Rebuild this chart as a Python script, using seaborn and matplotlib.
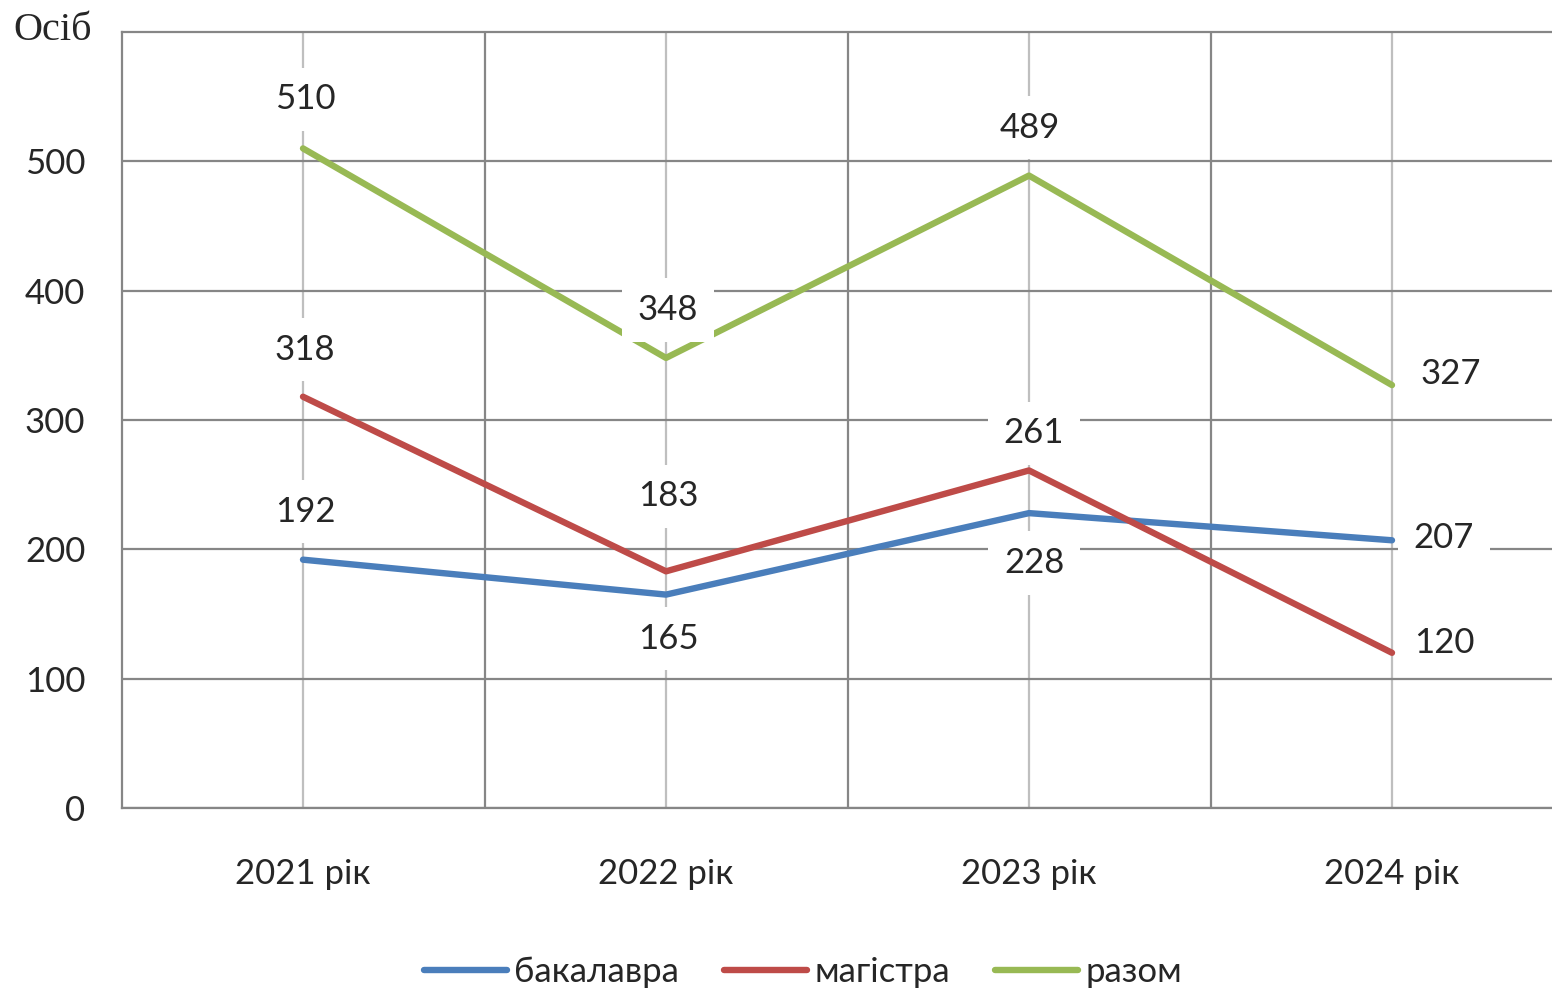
import matplotlib
matplotlib.use("Agg")
import matplotlib.pyplot as plt
import seaborn as sns
import pandas as pd

# data
years = ["2021 рік", "2022 рік", "2023 рік", "2024 рік"]
bakalavra = [192, 165, 228, 207]
magistra = [318, 183, 261, 120]
razom = [510, 348, 489, 327]
series_names = ["бакалавра", "магістра", "разом"]

colors = ["#4A7EBB", "#BE4B48", "#98B954"]

# label offsets in pixels (dx, dy) relative to each point
label_offsets = {
    "бакалавра": [(2, 48), (2, -44), (5, -50), (52, 2)],
    "магістра": [(2, 47), (2, 75), (5, 37), (52, 10)],
    "разом": [(2, 49), (2, 48), (1, 48), (59, 11)],
}

df = pd.DataFrame({
    "year": years * 3,
    "value": bakalavra + magistra + razom,
    "series": [s for s in series_names for _ in years],
})

sns.set_style("white")
plt.rcParams["font.family"] = ["Lato", "Open Sans", "DejaVu Sans"]

W, H = 1552, 994
fig = plt.figure(figsize=(W / 100, H / 100), dpi=100)
ax = fig.add_axes([121.5 / W, (H - 808) / H, 1452 / W, (808 - 32) / H])

sns.lineplot(data=df, x="year", y="value", hue="series", palette=colors,
             linewidth=4.6, ax=ax, legend=False, zorder=3,
             solid_capstyle="round")

ax.set_xlim(-0.5, 3.5)
ax.set_ylim(0, 600)
ax.set_yticks(range(0, 501, 100))
ax.set_xticks(range(len(years)))
ax.set_xticklabels(years)
ax.set_xticks([0.5, 1.5, 2.5], minor=True)
ax.grid(axis="y", which="major", color="#868686", linewidth=1.6, zorder=0)
ax.grid(axis="x", which="major", color="#BFBFBF", linewidth=1.6, zorder=0)
ax.grid(axis="x", which="minor", color="#868686", linewidth=1.6, zorder=0)
ax.set_axisbelow(True)
ax.spines["right"].set_visible(False)
for side in ["left", "bottom", "top"]:
    ax.spines[side].set_color("#868686")
    ax.spines[side].set_linewidth(1.6)
ax.tick_params(axis="both", which="both", length=0, labelsize=25)
ax.tick_params(axis="x", pad=36)
ax.tick_params(axis="y", pad=26)
ax.set_xlabel("")
ax.set_ylabel("")

series_values = {"бакалавра": bakalavra, "магістра": magistra, "разом": razom}
for name in series_names:
    for i, v in enumerate(series_values[name]):
        dx, dy = label_offsets[name][i]
        ax.annotate(str(v), (i, v), xytext=(dx, dy), textcoords="offset pixels",
                    ha="center", va="center", fontsize=25, zorder=5,
                    bbox=dict(boxstyle="square,pad=0.45", fc="white", ec="none"))

fig.text(13 / W, 1 - 30 / H, "Осіб", family="Liberation Serif", fontsize=29,
         ha="left", va="center")

handles = [plt.Line2D([], [], color=c, linewidth=4.6, solid_capstyle="round")
           for c in colors]
fig.legend(handles, series_names, loc="center", bbox_to_anchor=(803 / W, 1 - 972 / H),
           ncol=3, frameon=False, fontsize=25, handlelength=2.4,
           handletextpad=0.2, columnspacing=1.3)

fig.savefig("out.png", dpi=100)
